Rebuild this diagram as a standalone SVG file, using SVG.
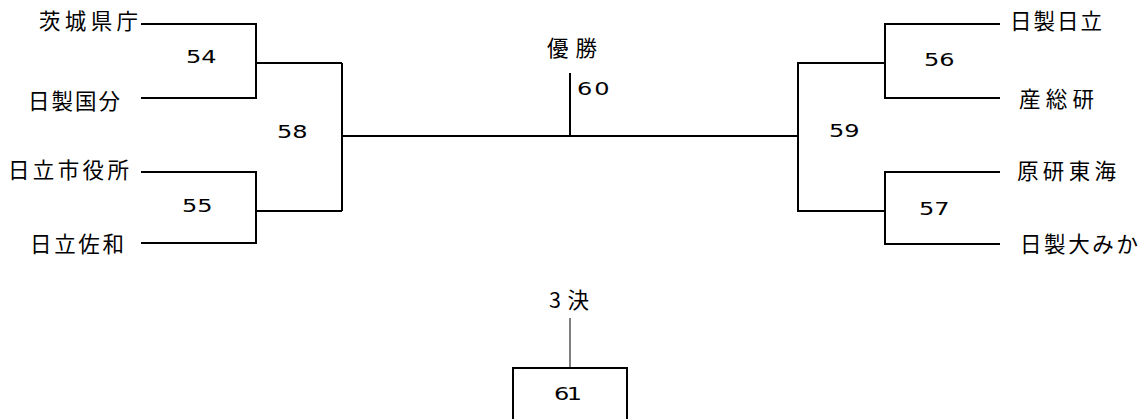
<svg xmlns="http://www.w3.org/2000/svg" width="1148" height="419" viewBox="0 0 1148 419">
<style>
.bg{fill:#ffffff}
.team{font-family:"Noto Sans CJK JP","Noto Sans CJK SC",sans-serif;font-size:21.5px;fill:#000}
.num{font-family:"DejaVu Sans","Noto Sans",sans-serif;font-size:18.5px;fill:#000}
.ln{fill:none;stroke:#000;stroke-width:2}
.thin{fill:none;stroke:#000;stroke-width:1}
</style>
<rect class="bg" x="0" y="0" width="1148" height="419"/>
<g id="connectors">
<path class="ln" d="M141,24 H256 V98 H141"/>
<path class="ln" d="M256,63 H342"/>
<path class="ln" d="M141,172 H256 V243 H141"/>
<path class="ln" d="M256,211 H342"/>
<path class="ln" d="M342,63 V211"/>
<path class="ln" d="M342,136 H798"/>
<path class="ln" d="M570,73 V136"/>
<path class="ln" d="M1000,24 H885 V98 H1000"/>
<path class="ln" d="M885,63 H798 V211 H885"/>
<path class="ln" d="M1000,172 H885 V244 H1000"/>
<path class="thin" d="M570,318 V368"/>
</g>
<g id="team-ibaraki"><text class="team" x="39" y="29" textLength="99">茨城県庁</text></g>
<g id="team-hitachi-kokubu"><text class="team" x="28" y="108.5" textLength="92">日製国分</text></g>
<g id="team-hitachi-city"><text class="team" x="8" y="177.5" textLength="121">日立市役所</text></g>
<g id="team-hitachi-sawa"><text class="team" x="30" y="251.5" textLength="94">日立佐和</text></g>
<g id="team-hitachi-hitachi"><text class="team" x="1010" y="29" textLength="92">日製日立</text></g>
<g id="team-aist"><text class="team" x="1019" y="106.5" textLength="75">産総研</text></g>
<g id="team-jaea-tokai"><text class="team" x="1017" y="178.5" textLength="99">原研東海</text></g>
<g id="team-hitachi-omika"><text class="team" x="1020" y="251.5" textLength="118">日製大みか</text></g>
<g id="match-54"><text class="num" transform="translate(186,63) scale(1.3,1)" textLength="23.5">54</text></g>
<g id="match-55"><text class="num" transform="translate(182,212) scale(1.3,1)" textLength="23.5">55</text></g>
<g id="match-58"><text class="num" transform="translate(277,138) scale(1.3,1)" textLength="23.5">58</text></g>
<g id="match-56"><text class="num" transform="translate(924,66) scale(1.3,1)" textLength="23.5">56</text></g>
<g id="match-57"><text class="num" transform="translate(919,215) scale(1.3,1)" textLength="23.5">57</text></g>
<g id="match-59"><text class="num" transform="translate(829,137) scale(1.3,1)" textLength="23.5">59</text></g>
<g id="final"><text class="team" x="547" y="56" textLength="50">優勝</text><text class="num" transform="translate(577,95) scale(1.3,1)" textLength="25">60</text></g>
<g id="third-place"><text class="team" x="549" y="307.5" textLength="40">3決</text></g>
<g id="match-61"><rect class="ln" x="513" y="368" width="114" height="70"/><text class="num" transform="translate(554,400) scale(1.3,1)" textLength="21.5">61</text></g>
</svg>
